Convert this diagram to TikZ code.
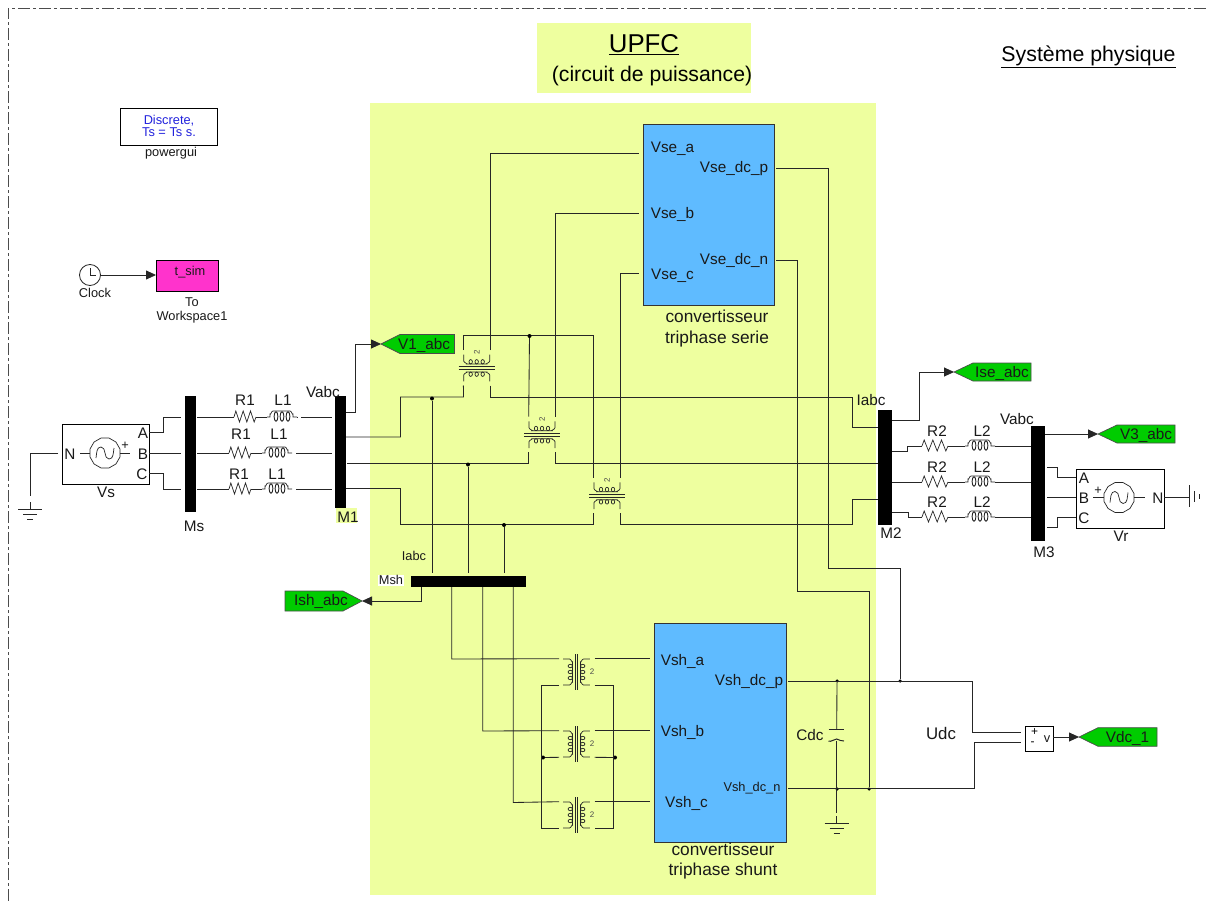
\documentclass[tikz,border=0pt]{standalone}
\usepackage{fontspec}
\setmainfont{Liberation Sans}
\usetikzlibrary{arrows.meta,shapes.geometric}
\definecolor{panel}{HTML}{EEFF9F}
\definecolor{blockblue}{HTML}{5FBBFF}
\definecolor{gotogreen}{HTML}{00CC00}
\definecolor{wsmag}{HTML}{FF33CC}
\definecolor{guiblue}{HTML}{2222DD}
\tikzset{
  wire/.style={line width=.85pt,draw=black!85},
  sym/.style={line width=.7pt,draw=black!85},
  sig/.style={wire,-{Triangle[length=10pt,width=9pt]}},
  lbl/.style={inner sep=0pt,text=black!90,font=\fontsize{15.3}{17}\selectfont,align=center,yshift=-1.3pt},
  smalllbl/.style={inner sep=0pt,text=black!90,font=\fontsize{12.8}{14}\selectfont,align=center,yshift=-1.3pt},
  bus/.style={fill=black,draw=none,inner sep=0pt},
  panelbox/.style={fill=panel,draw=none,inner sep=0pt},
  conv/.style={fill=blockblue,draw=black!80,line width=1pt,inner sep=0pt},
  srcbox/.style={fill=white,draw=black,line width=1pt,inner sep=0pt},
  goto/.style={fill=gotogreen,draw=black!70,line width=.7pt},
  jdot/.style={circle,fill=black,inner sep=0pt,minimum size=4pt},
}
% bar: name, x0, y0, x1, y1
\newcommand{\busbar}[5]{\node[bus,anchor=north west,minimum width=#4pt-#2pt,minimum height=#5pt-#3pt] (#1) at (#2,#3) {};}
% resistor: name, x0, x1, y
\newcommand{\resist}[4]{%
  \coordinate (#1l) at (#2,#4); \coordinate (#1r) at (#3,#4);
  \draw[sym] (#1l) -- ++({(#3-#2)/12},-6) -- ++({(#3-#2)/6},11) -- ++({(#3-#2)/6},-11) -- ++({(#3-#2)/6},11) -- ++({(#3-#2)/6},-11) -- ++({(#3-#2)/6},11) -- (#1r);}
% inductor: name, x0, y
\newcommand{\induct}[3]{%
  \coordinate (#1l) at (#2,#3); \coordinate (#1r) at (#2+30,#3);
  \draw[sym] (#1l) -- ++(3,0) -- ++(0,-3) to[out=-70,in=180] ++(3,-3) -- ++(17,0) to[out=0,in=-110] ++(3,3) -- ++(0,3) -- (#1r);
  \foreach \dx in {9,15,21}{\draw[sym,line width=.9pt] (#2+\dx,#3-.5) ellipse (1.9 and 4.7);}}
% transformer: name, cx, cy, angle
\newcommand{\xfmr}[4]{%
  \begin{scope}[shift={(#2,#3)},rotate=#4]
    \draw[sym] (-1.2,-18) -- (-1.2,18) (1.2,-18) -- (1.2,18);
    \draw[sym] (-13.3,-13) -- (-7,-13) to[out=0,in=-90] (-4,-10) -- (-4,10) to[out=90,in=0] (-7,13) -- (-13.3,13);
    \draw[sym] (13.3,-13) -- (7,-13) to[out=180,in=-90] (4,-10) -- (4,10) to[out=90,in=180] (7,13) -- (13.3,13);
    \foreach \v in {-6,0,6}{\draw[sym] (-6.2,\v) ellipse (2.2 and 1.7); \draw[sym] (6.2,\v) ellipse (2.2 and 1.7);}
    \node[inner sep=0pt,font=\fontsize{8}{9}\selectfont,text=black!70,transform shape] (#1two) at (15.5,0) {2};
    \coordinate (#1tl) at (-17.5,-13.3); \coordinate (#1bl) at (-17.5,13.3);
    \coordinate (#1tr) at (18,-13.3);    \coordinate (#1br) at (18,13.3);
  \end{scope}}
% goto tag pointing left: name, tipx, y, rightx, half height, text, text x
\newcommand{\gototag}[7]{%
  \coordinate (#1) at (#2,#3);
  \draw[goto] (#1) -- ++(19,-#5) -- (#4,#3-#5) -- (#4,#3+#5) -- (#2+19,#3+#5) -- cycle;
  \node[lbl] (#1t) at (#7,#3) {#6};}
% ground: name, x, y (top), horizontal bars
\newcommand{\gndh}[3]{%
  \coordinate (#1) at (#2,#3);
  \draw[sym] (#2-12,#3) -- (#2+12,#3) (#2-7,#3+5) -- (#2+7,#3+5) (#2-3,#3+10) -- (#2+3,#3+10);}
% source symbol
\newcommand{\acsrc}[3]{%
  \node[draw=black!85,line width=.7pt,fill=white,regular polygon,regular polygon sides=12,minimum size=31pt,inner sep=0pt] (#1) at (#2,#3) {};
  \draw[sym] (#2-9,#3+5) to[out=80,in=180] (#2-4,#3-6) to[out=0,in=180] (#2+4,#3+6) to[out=0,in=-100] (#2+9,#3-5);}
\begin{document}
\begin{tikzpicture}[x=1pt,y=-1pt]
\useasboundingbox (0,0) rectangle (1206,901);
\fill[white] (0,0) rectangle (1206,901);
% outer subsystem frame
\coordinate (frameTL) at (8,8);
\draw[line width=.8pt,draw=black!70,dash pattern=on 12pt off 3pt on 3pt off 3pt] (8,901) -- (frameTL) -- (1206,8);
% panels
\node[panelbox,anchor=north west,minimum width=506pt,minimum height=792pt] (mainpanel) at (370,103) {};
\node[panelbox,anchor=north west,minimum width=214pt,minimum height=70pt] (titlepanel) at (537,23) {};
\node[panelbox,anchor=north west,minimum width=21pt,minimum height=15pt] (m1hl) at (336,508) {};
% titles
\node[inner sep=0pt,font=\fontsize{25.8}{28}\selectfont] (t1) at (644,45) {\underline{UPFC}};
\node[inner sep=0pt,font=\fontsize{21.2}{23}\selectfont] (t2) at (652,76.5) {(circuit de puissance)};
\node[inner sep=0pt,font=\fontsize{21.3}{23}\selectfont] (t3) at (1088.5,56.5) {\underline{Système physique}};
% powergui
\node[srcbox,line width=.9pt,anchor=north west,minimum width=97pt,minimum height=37pt,inner sep=0pt] (gui) at (120,108) {};
\node[inner sep=0pt,text=guiblue,font=\fontsize{12.8}{12}\selectfont,align=center] (guit) at (169,125.5) {Discrete,\\Ts = Ts s.};
\node[smalllbl] (guil) at (171,152) {powergui};
% clock
\node[draw=black!85,fill=white,circle,line width=.8pt,minimum size=21pt,inner sep=0pt] (clock) at (90,275) {};
\draw[sym] (90,268) -- (90,275) -- (96,275);
\node[smalllbl] (clockl) at (95,292) {Clock};
\node[draw=black,fill=wsmag,line width=.9pt,anchor=north west,minimum width=62pt,minimum height=31pt,inner sep=0pt] (ws) at (156,260) {};
\node[smalllbl] (wst) at (190,271) {t\_sim};
\node[smalllbl] (wsl) at (192,309) {To\\[0pt]Workspace1};
\draw[sig] (clock.east) -- (clock.east -| ws.west);
% Vs
\node[srcbox,anchor=north west,minimum width=87pt,minimum height=60pt] (vs) at (62,424) {};
\acsrc{vssrc}{105}{453}
\node[lbl] (vsN) at (70,453) {N};
\node[lbl] (vsA) at (143,432) {A};
\node[lbl] (vsB) at (143,453) {B};
\node[lbl] (vsC) at (142,473) {C};
\node[smalllbl] (vsp) at (125,445) {+};
\node[lbl] (vsl) at (106,491) {Vs};
\draw[sym] (80,453) -- (vssrc.west) (vssrc.east) -- (130,453);
\gndh{gl}{30}{509}
\draw[wire] (58,453) -- (30,453) -- (30,496);
\draw[wire] (30,502) -- (gl);
% buses
\busbar{Ms}{185}{396}{196}{512}
\busbar{M1}{335}{396}{346}{508}
\busbar{M2}{878}{410}{892}{524.5}
\busbar{M3}{1031}{426}{1045}{540.5}
\busbar{Msh}{411}{576}{526}{587}
\node[lbl] (Msl) at (194,525) {Ms};
\node[lbl] (M1l) at (348,515.5) {M1};
\node[lbl] (V1l) at (323,391) {Vabc};
\node[lbl] (M2l) at (891,532) {M2};
\node[lbl] (I2l) at (871,399) {Iabc};
\node[lbl] (M3l) at (1044,551) {M3};
\node[lbl] (V3l) at (1017,418) {Vabc};
\node[smalllbl,fill=white,inner sep=1pt] (Mshl) at (391,579) {Msh};
\node[smalllbl] (Ishl) at (414,555) {Iabc};
% source to Ms
\draw[wire] (149,432) -- (163,432) -- (163,417) -- (181,417);
\draw[wire] (149,453) -- (181,453);
\draw[wire] (149,473) -- (163,473) -- (163,489) -- (181,489);
% R1 L1
\resist{ra}{234}{256}{417} \induct{la}{267}{417}
\resist{rb}{229}{251}{453} \induct{lb}{262}{453}
\resist{rc}{229}{251}{489} \induct{lc}{262}{489}
\node[lbl] at (245,399) {R1}; \node[lbl] at (283,399) {L1};
\node[lbl] at (241,433) {R1}; \node[lbl] at (279,433) {L1};
\node[lbl] at (239,473) {R1}; \node[lbl] at (277,473) {L1};
\draw[wire] (197,417) -- (ral); \draw[wire] (rar) -- (lal); \draw[wire] (lar) -- (298,417); \draw[wire] (301,417) -- (332,417);
\draw[wire] (197,453) -- (rbl); \draw[wire] (rbr) -- (lbl); \draw[wire] (lbr) -- (292,453); \draw[wire] (296,453) -- (332,453);
\draw[wire] (197,489) -- (rcl); \draw[wire] (rcr) -- (lcl); \draw[wire] (lcr) -- (292,489); \draw[wire] (296,489) -- (332,489);
% gotos
\gototag{V1tip}{381}{344}{454.5}{9.5}{V1\_abc}{424}
\gototag{Isetip}{954}{372}{1031}{9}{Ise\_abc}{1002}
\gototag{V3tip}{1098}{434}{1175}{9}{V3\_abc}{1146}
\gototag{Vdctip}{1079}{737}{1157}{9.3}{Vdc\_1}{1127.5}
\coordinate (Ishtip) at (362,601);
\draw[goto] (Ishtip) -- (343,591) -- (285,591) -- (285,611) -- (343,611) -- cycle;
\node[lbl] (Isht) at (321,600.5) {Ish\_abc};
\draw[sig] (346,412) -- (355,412) -- (355,344) -- (V1tip);
\draw[sig] (892,420) -- (919,420) -- (919,372) -- (Isetip);
\draw[sig] (1045,434) -- (V3tip);
\draw[sig] (421.7,587) -- (421.7,601) -- (Ishtip);
% converters
\node[conv,anchor=north west,minimum width=131pt,minimum height=181pt] (Vse) at (643,124) {};
\node[conv,anchor=north west,minimum width=132pt,minimum height=219pt] (Vsh) at (654,623) {};
\node[lbl] at (672.5,147) {Vse\_a};
\node[lbl] at (672.5,213) {Vse\_b};
\node[lbl] at (672.5,274) {Vse\_c};
\node[lbl] at (734,167) {Vse\_dc\_p};
\node[lbl] at (734,259) {Vse\_dc\_n};
\node[lbl,font=\fontsize{17.3}{21}\selectfont] (sel) at (717,327.5) {convertisseur\\triphase serie};
\node[lbl] at (682.5,660) {Vsh\_a};
\node[lbl] at (682.5,731) {Vsh\_b};
\node[lbl] at (686.5,802) {Vsh\_c};
\node[lbl] at (749,680) {Vsh\_dc\_p};
\node[smalllbl] at (752,787) {Vsh\_dc\_n};
\node[lbl,font=\fontsize{17.3}{20}\selectfont] (shl) at (723,860) {convertisseur\\triphase shunt};
% series transformers
\xfmr{A}{476.7}{368}{90}
\xfmr{B}{542}{434.7}{90}
\xfmr{C}{607}{495.7}{90}
% shunt transformers
\xfmr{D}{576.5}{672}{0}
\xfmr{E}{576.5}{744}{0}
\xfmr{F}{576.5}{815}{0}
% series wiring
\draw[wire] (346,437) -- (400.5,437) -- (400.5,397) -- (463.5,397) -- (Atl);
\draw[wire] (347,463.5) -- (528.7,463.5) -- (Btl);
\draw[wire] (346,488.5) -- (400.5,488.5) -- (400.5,524) -- (593.7,524) -- (Ctl);
\draw[wire] (Abl) -- (490,397) -- (852,397) -- (852,427.5) -- (878,427.5);
\draw[wire] (Bbl) -- (555.3,463.5) -- (878,463.5);
\draw[wire] (Cbl) -- (620.3,524) -- (852,524) -- (852,499) -- (878,499);
\draw[wire] (Abr) -- (490,153) -- (639,153);
\draw[wire] (Bbr) -- (555.3,213) -- (639,213);
\draw[wire] (Cbr) -- (620.3,273) -- (639,273);
\draw[wire] (Atr) -- (463.4,335.5) -- (593.7,335.5) -- (Ctr);
\draw[wire] (529.5,335.5) -- (Btr);
% Msh taps
\node[jdot] (j1) at (432,398.5) {};
\node[jdot] (j2) at (468,464.5) {};
\node[jdot] (j3) at (504,525) {};
\node[jdot] (j4) at (529.5,336) {};
\draw[wire] (j1) -- (432,572.5);
\draw[wire] (j2) -- (468,572.5);
\draw[wire] (j3) -- (504,572.5);
% shunt wiring
\draw[wire] (451.7,587) -- (451.7,659) -- (Dtl);
\draw[wire] (482.7,587) -- (482.7,731) -- (Etl);
\draw[wire] (513.3,587) -- (513.3,802.5) -- (Ftl);
\draw[wire] (Dtr) -- (650,658.7);
\draw[wire] (Etr) -- (650,730.7);
\draw[wire] (Ftr) -- (650,801.7);
\node[jdot] (j5) at (543,757.5) {};
\node[jdot] (j6) at (615,757.5) {};
\draw[wire] (Dbl) -- (541.7,685.3) -- (541.7,828.3) -- (Fbl);
\draw[wire] (Dbr) -- (613.5,685.3) -- (613.5,828.3) -- (Fbr);
\draw[wire] (Ebl) -- (j5);
\draw[wire] (Ebr) -- (j6);
% DC wiring
\node[jdot,minimum size=3.5pt] (j7) at (837,681) {};
\node[jdot,minimum size=3.5pt] (j8) at (900,681) {};
\node[jdot,minimum size=3.5pt] (j9) at (837,789) {};
\node[jdot,minimum size=3.5pt] (j10) at (869,789) {};
\draw[wire] (776,168) -- (828,168) -- (828,568) -- (900,568) -- (j8);
\draw[wire] (776,260) -- (797,260) -- (797,591) -- (869,591) -- (j10);
\node[srcbox,line width=.8pt,anchor=north west,minimum width=28pt,minimum height=24.5pt] (vm) at (1025,726.3) {};
\node[inner sep=0pt,font=\fontsize{12}{12}\selectfont] (vmp) at (1034.5,732) {+};
\node[inner sep=0pt,font=\fontsize{12}{12}\selectfont] (vmm) at (1032.5,744) {-};
\node[smalllbl] (vmv) at (1047,738) {v};
\draw[wire] (788,681) -- (972,681) -- (972,732) -- (1021,732);
\draw[wire] (788,788.5) -- (974.3,788.5) -- (974.3,742.5) -- (1021,742.5);
\draw[sig] (1053,737) -- (Vdctip);
% Cdc
\coordinate (capt) at (836.7,729);
\coordinate (capb) at (836.7,741);
\draw[wire] (j7) -- (capt);
\draw[sym,line width=1pt] (828.5,729) -- (844,729);
\draw[sym,line width=1pt] (828.5,741) to[out=-25,in=180] (836.7,739) to[out=0,in=205] (844,741);
\draw[wire] (capb) -- (836.7,813);
\gndh{gc}{836.7}{823}
\draw[wire] (836.7,816) -- (gc);
\node[lbl] (cdcl) at (810,734) {Cdc};
\node[lbl,font=\fontsize{16.8}{18}\selectfont] (udcl) at (941,732.5) {Udc};
% R2 L2
\resist{rd}{922}{948}{446} \induct{ld}{965}{446}
\resist{re}{922}{948}{482} \induct{le}{965}{482}
\resist{rf}{922}{948}{517} \induct{lf}{965}{517}
\node[lbl] at (937,430) {R2}; \node[lbl] at (982,430) {L2};
\node[lbl] at (937,466) {R2}; \node[lbl] at (982,466) {L2};
\node[lbl] at (937,501) {R2}; \node[lbl] at (982,501) {L2};
\draw[wire] (892,451.5) -- (907,451.5) -- (907,446) -- (rdl); \draw[wire] (rdr) -- (ldl); \draw[wire] (ldr) -- (1031,446);
\draw[wire] (892,482) -- (rel); \draw[wire] (rer) -- (lel); \draw[wire] (ler) -- (1031,482);
\draw[wire] (892,512) -- (908,512) -- (908,517) -- (rfl); \draw[wire] (rfr) -- (lfl); \draw[wire] (lfr) -- (1031,517);
% Vr
\node[srcbox,anchor=north west,minimum width=88pt,minimum height=59pt] (vr) at (1076,469) {};
\acsrc{vrsrc}{1119}{497.5}
\node[lbl] at (1084,477) {A};
\node[lbl] at (1084,497) {B};
\node[lbl] at (1084,517) {C};
\node[lbl] at (1158,497) {N};
\node[smalllbl] at (1098,490) {+};
\node[lbl] (vrl) at (1121,534.5) {Vr};
\draw[sym] (1093,497.5) -- (vrsrc.west) (vrsrc.east) -- (1145,497.5);
\draw[wire] (1047,467) -- (1057,467) -- (1057,477) -- (1076,477);
\draw[wire] (1047,497) -- (1076,497);
\draw[wire] (1047,527.7) -- (1057,527.7) -- (1057,517.7) -- (1076,517.7);
\coordinate (gr) at (1189,497);
\draw[wire] (1164,497) -- (gr);
\draw[sym] (1189,485) -- (1189,507) (1194,491) -- (1194,502) (1199,494) -- (1199,499);
\end{tikzpicture}
\end{document}
